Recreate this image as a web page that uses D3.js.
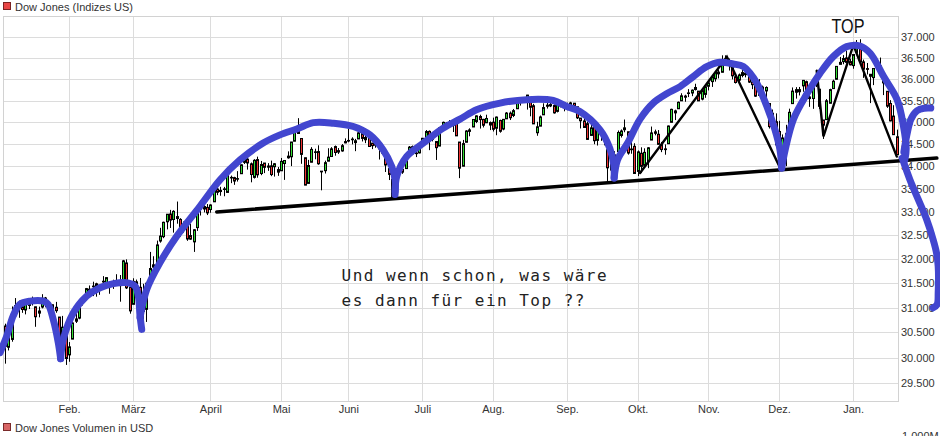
<!DOCTYPE html>
<html><head><meta charset="utf-8">
<script src="https://cdn.jsdelivr.net/npm/d3@7"></script>
<style>
html,body{margin:0;padding:0;background:#fff;}
svg{display:block;font-family:"Liberation Sans",Arial,sans-serif;}
</style></head><body>
<svg id="chart" width="940" height="436"></svg>
<script>
// ---- axis labels ----
const monthLabels = ["Feb.","März","April","Mai","Juni","Juli","Aug.","Sep.","Okt.","Nov.","Dez.","Jan."];
const monthStartIdx = [19,38,61,82,102,124,145,167,188,209,230,252];
const yTickValues = [29500,30000,30500,31000,31500,32000,32500,33000,33500,34000,34500,35000,35500,36000,36500,37000];

// ---- daily candles, Jan 2021 .. Jan 2022 (one row per month) ----
const open = [
30627,30205,30360,30904,31069,31016,30951,31043,31085,31015,30887,31010,31194,31054,31056,31005,30808,30378,30459,
30054,30366,30769,30786,31115,31192,31353,31434,31485,31394,31538,31468,31505,31530,31479,31449,31533,31918,31412,
31066,31526,31413,31255,30964,31557,31879,31906,32380,32473,32791,32958,32839,32902,32841,32608,32723,32495,32362,32666,33063,33119,33101,
33054,33222,33501,33471,33503,33427,33758,33752,33730,33839,34092,34163,34058,33758,34153,33843,34076,34010,34013,33994,33930,
33904,34065,34193,34216,34567,34813,34628,34194,33625,34094,34323,34333,33880,33906,34118,34222,34445,34354,34347,34558,
34584,34614,34535,34618,34741,34650,34645,34523,34490,34484,34369,34304,33953,33717,33366,33865,33936,33953,34236,34443,34300,34303,
34507,34642,34790,34610,34559,34457,34882,34978,34953,34932,35045,34548,34006,34543,34790,34890,35016,35130,35064,34986,34990,
35000,34861,35039,34843,35077,35208,35154,35309,35476,35512,35479,35501,35378,34759,34909,35169,35392,35374,35383,35249,35438,35433,
35375,35359,35438,35354,35094,35028,34965,34698,34911,34586,34740,34673,34374,34063,34001,34334,34697,34828,34781,34375,34451,
33890,34295,34026,34108,34593,34779,34724,34492,34393,34510,34997,35214,35309,35493,35577,35664,35675,35804,35719,35533,35643,
35833,35942,36010,36167,36163,36382,36416,36350,36056,35977,36154,36106,36135,35935,35869,35666,35590,35724,35431,35206,35010,
34788,34085,34739,34752,35428,35693,35704,35842,35940,35583,35546,35987,35764,35050,35059,35436,35778,35997,36351,36415,36504,36416,
36321,36636,36722,36409,36249,36115,36036,36385,36312,36038,35715,35432,35140,34667];
const high = [
30674,30504,31022,31193,31140,31103,31126,31180,31223,31018,31019,31272,31216,31096,31060,31115,30808,30831,30473,
30307,30827,30921,31063,31232,31400,31451,31529,31507,31462,31644,31613,31540,31570,31684,31667,31982,31993,31514,
31600,31573,31606,31486,31498,32150,32059,32389,32661,32793,32953,33047,33039,33228,32868,32797,32766,32747,32632,33098,33259,33159,33174,
33167,33617,33615,33550,33548,33810,33797,33771,33896,34048,34256,34186,34088,34162,34219,34123,34076,34074,34130,34075,33987,
34190,34133,34338,34551,34811,35092,34628,34194,34147,34432,34397,34474,33898,34129,34408,34432,34469,34412,34503,34631,
34849,34655,34619,34808,34741,34850,34657,34530,34555,34484,34428,34305,33980,33736,33922,34022,34014,34244,34458,34469,34353,34503,
34640,34821,34810,34741,34559,34890,35013,35005,35049,35057,35092,34548,34596,34817,34860,35067,35156,35171,35077,35172,35015,
35104,35130,35057,35065,35232,35246,35304,35502,35510,35532,35631,35516,35422,35009,35152,35435,35464,35480,35411,35510,35471,35433,
35450,35470,35438,35354,35094,35127,35017,35042,34955,34824,34820,34717,34374,34238,34342,34810,34834,35061,34781,34567,34521,
34358,34429,34406,34432,34900,34830,34820,34550,34495,34923,35310,35287,35476,35669,35634,35765,35758,35892,35719,35737,35832,
35984,36053,36171,36227,36566,36566,36489,36386,36100,36133,36264,36256,36155,35935,35924,36000,35848,35830,35431,35291,35203,
35032,34720,34940,35311,35805,35812,35816,35981,35965,35774,35954,36162,35764,35050,35534,35775,35987,36308,36527,36571,36679,36485,
36595,36934,36953,36464,36383,36115,36256,36434,36513,36038,35715,35509,35391,34830];
const low = [
29882,30141,30314,30897,30793,30893,30862,30970,31042,30612,30802,30983,31005,30869,30612,30894,30218,30370,29857,
29919,30366,30688,30763,31040,31146,31311,31233,31221,31260,31471,31393,31281,31380,31449,31119,31487,31378,30876,
31066,31360,31231,30760,30709,31557,31791,31906,32345,32440,32628,32658,32558,32749,32471,32557,32384,32405,32150,32595,32925,32993,32935,
32985,33222,33367,33354,33343,33427,33630,33593,33665,33839,34055,33930,33649,33732,33750,33806,33852,33903,33785,33775,33791,
33904,33702,34174,34008,34567,34736,34059,33587,33625,34094,34160,34037,33473,33843,34118,34222,34240,34280,34330,34520,
34542,34495,34342,34618,34561,34523,34444,34388,34419,34155,34276,33877,33699,33271,33340,33786,33836,33953,34236,34283,34209,34292,
34460,34642,34365,34563,34145,34457,34862,34853,34892,34775,34685,33741,34006,34543,34678,34890,34978,34854,34880,34986,34819,
34787,34702,34760,34815,35077,35049,35117,35309,35382,35446,35290,35135,34960,34690,34909,35169,35313,35347,35197,35224,35341,35250,
35275,35359,35289,35073,34856,34878,34600,34698,34498,34469,34575,34473,33613,33889,33993,34334,34650,34770,34264,34284,33843,
33785,33853,34026,33962,34593,34700,34491,34320,34262,34510,34997,35048,35309,35493,35471,35580,35601,35733,35490,35504,35563,
35735,35817,35942,36017,36160,36355,36203,35994,35897,35911,36043,36042,35909,35765,35585,35609,35548,35480,34855,35005,34446,
34006,34019,34006,34662,35428,35544,35618,35704,35610,35353,35307,35814,35301,34618,35059,35436,35778,35997,36351,36353,36392,36327,
36246,36636,36407,36030,36111,35440,35860,36243,36081,35626,35329,35019,34712,34258];
const close = [
30223,30392,30829,31041,31098,30960,31068,31061,31112,30814,30930,31188,31176,30997,30960,30937,30303,30603,29983,
30212,30688,30724,31056,31148,31386,31375,31438,31431,31458,31523,31613,31494,31494,31522,31537,31962,31402,30932,
31535,31391,31270,30924,31496,31802,31832,32297,32485,32779,32953,32826,33015,32862,32628,32731,32423,32420,32619,33072,33171,33066,32982,
33153,33527,33430,33446,33504,33801,33746,33677,33731,34036,34200,34078,33821,34137,33815,34043,33981,33984,33820,34060,33874,
34113,34133,34230,34548,34778,34742,34270,33587,34021,34382,34327,34060,33896,34084,34208,34394,34312,34323,34465,34529,
34575,34600,34577,34756,34630,34600,34447,34466,34480,34393,34299,34033,33823,33290,33876,33945,33874,34196,34433,34283,34292,34503,
34633,34786,34577,34681,34421,34870,34996,34889,34933,34987,34688,33962,34512,34798,34823,35062,35144,35059,34930,35085,34935,
34838,35117,34793,35065,35209,35102,35265,35485,35500,35516,35626,35344,34961,34894,35120,35336,35367,35406,35214,35456,35400,35361,
35313,35444,35369,35100,35032,34879,34608,34870,34578,34814,34751,34584,33970,33919,34258,34765,34798,34870,34300,34390,33844,
34326,34002,34315,34417,34755,34746,34496,34378,34377,34912,35295,35259,35458,35609,35603,35677,35741,35757,35491,35731,35820,
35913,36053,36158,36125,36328,36432,36320,36079,35921,36100,36087,36143,35931,35870,35602,35619,35814,35804,34899,35136,34484,
34022,34640,34580,35227,35719,35754,35754,35971,35650,35545,35928,35898,35365,34932,35493,35754,35951,36302,36398,36488,36398,36338,
36585,36800,36408,36236,36232,36068,36252,36290,36114,35912,35369,35029,34715,34265];

// ---- hand-drawn annotations, in [trading-day index, index level] ----
const supportLine = [[62.9,33003],[276.9,34187]];
const zigzagA = [[188.7,33855],[214.5,36530],[230.3,33970]];
const zigzagB = [[241.2,36200],[243.2,34675],[252.1,36815],[265.0,34220]];
const blueArc1 = [[-1.5,30100],[0.5,30430],[2.4,30830],[4.4,31065],[7.4,31130],[11.4,31130],[12.8,31065],[14.3,30760],[15.8,30296],[16.5,29980]];
const blueArc2 = [[16.5,29980],[17.3,30360],[20.3,30895],[24.2,31230],[28.2,31405],[32.2,31490],[36.1,31510],[38.6,31440],[39.6,31230],[40.1,30830],[40.6,30560]];
const blueArc3 = [[40.1,30800],[42.1,31370],[46.0,31920],[51.0,32480],[57.9,33125],[63.9,33705],[69.8,34145],[76.7,34525],[81.7,34710],[86.7,34845],[91.6,34990],[97.5,34977],[103.5,34900],[108.4,34710],[112.4,34365],[114.9,34000],[115.9,33705],[115.9,33380]];
const blueArc4 = [[115.9,33450],[116.4,33780],[119.3,34220],[124.3,34525],[130.2,34865],[135.2,35070],[140.1,35285],[147.1,35440],[155.0,35520],[162.9,35500],[166.9,35360],[170.8,35246],[176.8,34825],[179.7,34410],[180.9,34030],[181.0,33745]];
const blueArc5 = [[181.0,33745],[182.0,34145],[185.0,34525],[188.7,35070],[192.6,35440],[196.6,35655],[200.6,35825],[204.5,36060],[208.5,36295],[212.4,36400],[216.4,36360],[219.4,36300],[221.4,36140],[223.4,35905],[226.4,35360],[228.8,34825],[230.3,34365],[230.8,33965]];
const blueArc6 = [[230.8,33965],[231.8,34365],[234.3,35070],[238.3,35655],[242.2,36140],[246.1,36535],[250.1,36775],[254.1,36790],[257.1,36615],[261.1,36060],[265.1,35520],[267.0,34900],[267.8,34400],[267.4,34150]];
const blueHook = [[267.1,34320],[268.0,34712],[269.2,35069],[271.0,35262],[273.1,35320],[275.1,35325]];
const blueDrop = [[266.6,34190],[268.9,33705],[271.4,33270],[273.9,32835],[275.8,32410],[276.8,32130],[277.3,31850],[277.3,31300],[277.0,31065],[275.8,30995]];
const topLabel = {text:"TOP", at:[250.5,37100]};
const noteLines = ["Und wenn schon, was wäre","es dann für ein Top ??"];
const noteAnchors = [[100.0,31534],[100.0,31033]];

// ---- drawing ----
const svg = d3.select("#chart");
const W = 940, H = 436;
const plot = {left:3, right:898, top:16, bottom:401};
const SANS = "'Liberation Sans',Arial,sans-serif";
svg.append("rect").attr("width",W).attr("height",H).attr("fill","#fff");

const x = d3.scaleLinear().domain([0, close.length-1]).range([5.1, 896.8]);
const y = d3.scaleLog().domain([29500, 37000]).range([383.3, 37.3]);
const de = d3.formatLocale({decimal:",", thousands:".", grouping:[3], currency:["","€"]});
const fmt = de.format(",d");

// grid
const grid = svg.append("g").attr("stroke","#dcdcdc").attr("stroke-width",1);
grid.selectAll("line.h").data(yTickValues).join("line")
  .attr("x1",plot.left).attr("x2",plot.right)
  .attr("y1",d=>Math.round(y(d))+0.5).attr("y2",d=>Math.round(y(d))+0.5);
grid.selectAll("line.v").data(monthStartIdx).join("line")
  .attr("y1",plot.top).attr("y2",plot.bottom)
  .attr("x1",d=>Math.round(x(d))+0.5).attr("x2",d=>Math.round(x(d))+0.5);
svg.append("rect").attr("x",plot.left+0.5).attr("y",plot.top+0.5)
  .attr("width",plot.right-plot.left).attr("height",plot.bottom-plot.top)
  .attr("fill","none").attr("stroke","#d2d2d2");

// axes
const yAxis = d3.axisRight(y).tickValues(yTickValues).tickFormat(fmt).tickSize(0).tickPadding(3);
const gy = svg.append("g").attr("transform",`translate(${plot.right},0)`).call(yAxis);
gy.select(".domain").remove();
gy.selectAll("text").style("font-size","11px").style("font-family",SANS).attr("fill","#333");

const xAxis = d3.axisBottom(x).tickValues(monthStartIdx).tickFormat((d,i)=>monthLabels[i]).tickSize(0).tickPadding(4);
const gx = svg.append("g").attr("transform",`translate(0,${plot.bottom})`).call(xAxis);
gx.select(".domain").remove();
gx.selectAll("text").style("font-size","11px").style("font-family",SANS).attr("fill","#333");

// candles
const idx = d3.range(close.length);
const cg = svg.append("g");
cg.selectAll("line.wick").data(idx).join("line")
  .attr("x1",i=>Math.round(x(i))+0.5).attr("x2",i=>Math.round(x(i))+0.5)
  .attr("y1",i=>y(high[i])).attr("y2",i=>y(low[i]))
  .attr("stroke","#000").attr("stroke-width",1);
cg.selectAll("rect.body").data(idx).join("rect")
  .attr("x",i=>Math.round(x(i))-0.5)
  .attr("width",2)
  .attr("y",i=>y(Math.max(open[i],close[i])))
  .attr("height",i=>Math.max(0.6, Math.abs(y(open[i])-y(close[i]))))
  .attr("fill",i=>close[i]>=open[i] ? "#33dd33" : "#ee3333")
  .attr("stroke","#000").attr("stroke-width",1);

// annotations
const lineStraight = d3.line().x(d=>x(d[0])).y(d=>y(d[1]));
const lineCurve = d3.line().x(d=>x(d[0])).y(d=>y(d[1])).curve(d3.curveCatmullRom.alpha(0.5));
svg.append("path").attr("d",lineStraight(supportLine)).attr("fill","none")
  .attr("stroke","#000").attr("stroke-width",3.5).attr("stroke-linecap","round");
[zigzagA, zigzagB].forEach(z=>{
  svg.append("path").attr("d",lineStraight(z)).attr("fill","none")
    .attr("stroke","#000").attr("stroke-width",2.4).attr("stroke-linejoin","miter").attr("stroke-linecap","round");
});
[blueArc1,blueArc2,blueArc3,blueArc4,blueArc5,blueArc6,blueHook,blueDrop].forEach(a=>{
  svg.append("path").attr("d",lineCurve(a)).attr("fill","none")
    .attr("stroke","#4246cf").attr("stroke-width",7)
    .attr("stroke-linecap","round").attr("stroke-linejoin","round");
});

// texts
svg.append("text").attr("x",x(topLabel.at[0])).attr("y",y(topLabel.at[1]))
  .attr("text-anchor","middle").style("font-size","19.5px").style("font-family",SANS)
  .attr("textLength",33).attr("lengthAdjust","spacingAndGlyphs")
  .attr("fill","#111").text(topLabel.text);
noteLines.forEach((t,i)=>{
  svg.append("text").attr("x",x(noteAnchors[i][0])).attr("y",y(noteAnchors[i][1]))
    .style("font-family","'DejaVu Sans Mono','Liberation Mono',monospace").style("font-size","16px")
    .style("letter-spacing","1.47px").attr("fill","#222").text(t);
});

// legends
svg.append("rect").attr("x",3.5).attr("y",2.5).attr("width",7).attr("height",7)
  .attr("fill","#e84646").attr("stroke","#7a2222");
svg.append("text").attr("x",15).attr("y",11).style("font-size","11px").style("font-family",SANS).attr("fill","#333").text("Dow Jones (Indizes US)");
svg.append("rect").attr("x",3.5).attr("y",423.5).attr("width",7).attr("height",7)
  .attr("fill","#d86666").attr("stroke","#7a2a2a");
svg.append("text").attr("x",15).attr("y",432).style("font-size","11px").style("font-family",SANS).attr("fill","#333").text("Dow Jones Volumen in USD");
svg.append("text").attr("x",902).attr("y",440).style("font-size","11px").style("font-family",SANS).attr("fill","#333").text("1.000M");
</script>
</body></html>
